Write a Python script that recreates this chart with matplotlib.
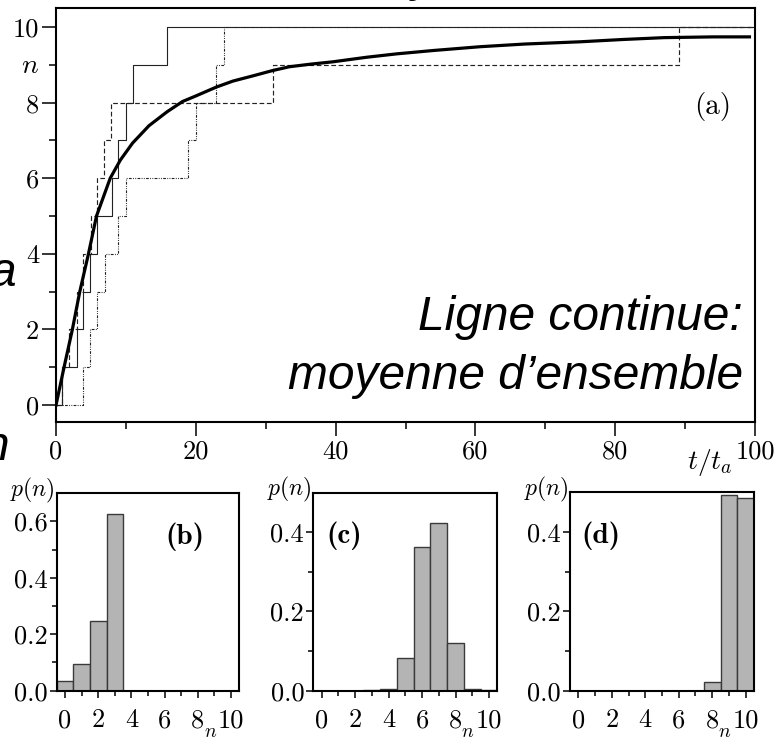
import numpy as np
import matplotlib.pyplot as plt
from matplotlib.ticker import FixedLocator

plt.rcParams['mathtext.fontset'] = 'cm'
plt.rcParams['axes.formatter.use_mathtext'] = True

# three single realisations n(t): jump times for n -> n+1
jumps_solid = [0.91, 2.96, 3.92, 4.88, 5.79, 7.94, 8.90, 10.0, 10.95, 15.88]
jumps_dashed = [0.90, 1.85, 2.95, 3.80, 4.98, 5.84, 6.89, 7.93, 31.0, 89.1]
jumps_dotted = [3.92, 4.88, 5.84, 6.98, 8.90, 10.0, 18.9, 20.0, 22.9, 24.0]

# ensemble average <n>(t)
mean_t = [0, 1.15, 2.34, 3.4, 4.64, 5.79, 7.75, 9.2, 10.95, 13.3, 15.9, 18.1,
          20.04, 22.91, 25.3, 28.2, 31.0, 33.4, 36.5, 39.6, 44.4, 48.7, 54.0, 60.7,
          67.0, 75.0, 81.0, 87.0, 94.1, 99.2]
mean_n = [0, 1.0, 2.0, 3.0, 4.0, 5.0, 6.0, 6.48, 6.93, 7.39, 7.76, 8.03,
          8.18, 8.41, 8.57, 8.71, 8.85, 8.95, 9.02, 9.08, 9.2, 9.29, 9.38, 9.48,
          9.55, 9.61, 9.67, 9.72, 9.74, 9.74]

# distributions p(n) at three times
n_vals = np.arange(11)
p_b = [0.034, 0.094, 0.247, 0.625, 0, 0, 0, 0, 0, 0, 0]
p_c = [0, 0, 0, 0.001, 0.005, 0.083, 0.363, 0.424, 0.121, 0.004, 0.001]
p_d = [0, 0, 0, 0, 0, 0, 0, 0, 0.022, 0.492, 0.485]

TICK_FONT = {'family': 'cmr10', 'size': 19}

fig = plt.figure(figsize=(7.76, 7.41), dpi=100)

# ---- panel (a): trajectories ----
ax = fig.add_axes([0.0722, 0.4305, 0.9008, 0.5585])
levels = list(range(11)) + [10]
for jumps, ls, lw in [(jumps_solid, '-', 0.8),
                      (jumps_dashed, (0, (4, 2.2)), 0.85),
                      (jumps_dotted, (0, (2.5, 1.2, 0.8, 1.2, 0.8, 1.2)), 0.8)]:
    ax.step([0] + jumps + [100], levels, where='post', color='#222222', lw=lw, ls=ls)
ax.plot(mean_t, mean_n, color='black', lw=2.3)

ax.set_xlim(0, 100)
ax.set_ylim(-0.45, 10.5)
ax.xaxis.set_major_locator(FixedLocator([0, 20, 40, 60, 80, 100]))
ax.xaxis.set_minor_locator(FixedLocator([10, 30, 50, 70, 90]))
ax.yaxis.set_major_locator(FixedLocator([0, 2, 4, 6, 8, 10]))
ax.yaxis.set_minor_locator(FixedLocator([1, 3, 5, 7, 9]))
ax.set_xticklabels(['0', '20', '40', '60', '80', '100'], fontdict=TICK_FONT)
ax.set_yticklabels(['0', '2', '4', '6', '8', '10'], fontdict=TICK_FONT)
ax.tick_params(which='major', length=10, width=1.1, pad=2)
ax.tick_params(axis='x', which='major', pad=3)
ax.tick_params(which='minor', length=5, width=1.1)
for s in ax.spines.values():
    s.set_linewidth(1.5)
ax.annotate('$n$', xy=(0, 9), xycoords=('axes fraction', 'data'),
            xytext=(-19, 0), textcoords='offset points', ha='center', va='center', fontsize=20)
ax.annotate('$t/t_a$', xy=(93.5, 0), xycoords=('data', 'axes fraction'),
            xytext=(0, -29), textcoords='offset points', ha='center', va='center', fontsize=20)
ax.text(0.94, 0.763, '(a)', transform=ax.transAxes, ha='center', va='center',
        family='cmr10', fontsize=21)

# ---- panels (b), (c), (d): histograms ----
sub_specs = [
    ([0.0731, 0.0679, 0.2353, 0.2664], p_b, 0.7, [0, 0.2, 0.4, 0.6], [0.1, 0.3, 0.5], '(b)', 0.70),
    ([0.4037, 0.0679, 0.2372, 0.2673], p_c, 0.5, [0, 0.2, 0.4], [0.1, 0.3], '(c)', 0.17),
    ([0.7345, 0.0679, 0.2371, 0.2677], p_d, 0.5, [0, 0.2, 0.4], [0.1, 0.3], '(d)', 0.17),
]
for rect, p, ymax, yt, ytm, lab, labx in sub_specs:
    sa = fig.add_axes(rect)
    sa.bar(n_vals, p, width=1.0, color='#b4b4b4', edgecolor='#3a3a3a', lw=1.0)
    sa.set_xlim(-0.5, 10.5)
    sa.set_ylim(0, ymax)
    sa.xaxis.set_major_locator(FixedLocator([0, 2, 4, 6, 8, 10]))
    sa.xaxis.set_minor_locator(FixedLocator([1, 3, 5, 7, 9]))
    sa.yaxis.set_major_locator(FixedLocator(yt))
    sa.yaxis.set_minor_locator(FixedLocator(ytm))
    sa.set_xticklabels(['0', '2', '4', '6', '8', '10'], fontdict=TICK_FONT)
    sa.set_yticklabels(['%.1f' % v for v in yt], fontdict=TICK_FONT)
    sa.tick_params(which='major', length=5, width=1.1)
    sa.tick_params(which='minor', length=3.5, width=1.1)
    sa.tick_params(axis='x', pad=8)
    sa.tick_params(axis='y', pad=1.5)
    for s in sa.spines.values():
        s.set_linewidth(1.5)
    sa.text(labx, 0.78, lab, transform=sa.transAxes, ha='center', va='center',
            family='cmb10', fontsize=21)
    sa.annotate('$p(n)$', xy=(0, 1), xycoords='axes fraction', xytext=(-1, 2),
                textcoords='offset points', ha='right', va='center', fontsize=17)
    sa.annotate('$n$', xy=(8.75, 0), xycoords=('data', 'axes fraction'),
                xytext=(0, -33), textcoords='offset points', ha='center', va='baseline', fontsize=14)

# ---- overlay text ----
over = dict(family='Liberation Sans', style='italic', fontsize=34.5, ha='right', va='baseline')
fig.text(743 / 776, 1 - 330 / 741, 'Ligne continue:', **over)
fig.text(743 / 776, 1 - 389 / 741, 'moyenne d\u2019ensemble', **over)
fig.text(17 / 776, 1 - 286 / 741, 'a', **over)
fig.text(9 / 776, 1 - 460 / 741, 'n', **over)
fig.text(436 / 776, 1 + 9 / 741, 'y', **over)

fig.savefig('out.png', dpi=100)
